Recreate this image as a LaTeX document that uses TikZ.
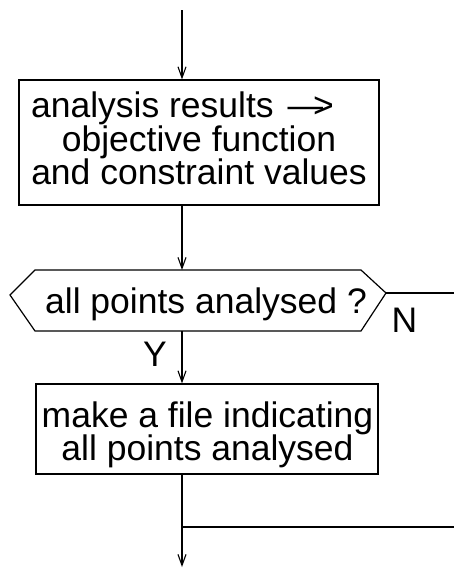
\documentclass[tikz,border=0pt]{standalone}
\usepackage{fontspec}
\setmainfont{Liberation Sans}
\usetikzlibrary{arrows.meta}
\begin{document}
\begin{tikzpicture}[x=1pt,y=-1pt,
  flow/.style={line width=1.2pt},
  arr/.style={flow,-{Straight Barb[length=11pt,width=8pt,line width=1.1pt]}},
  box/.style={draw,line width=1.2pt,inner sep=0pt},
  txt/.style={inner sep=0pt,font=\fontsize{35.5}{33.5}\selectfont,align=center}]
\useasboundingbox (0,0) rectangle (454,568);

% process box: evaluation of the analysis results
\node[box,minimum width=360pt,minimum height=125pt] (res) at (199,142.5) {};
\node[txt,anchor=north] (restext) at (199,91.6)
  {analysis results\hspace{14pt}—\kern-10pt>\kern33pt\\objective function\\and constraint values};

% decision: all points analysed?
\coordinate (hl)  at (10,295);
\coordinate (htl) at (35,270);
\coordinate (htr) at (361,270);
\coordinate (hr)  at (386,293);
\coordinate (hbr) at (361,331);
\coordinate (hbl) at (35,331);
\draw[box] (hl) -- (htl) -- (htr) -- (hr) -- (hbr) -- (hbl) -- cycle;
\node[txt,anchor=base] (q) at (206,313) {all points analysed ?};
\coordinate (qtop) at (182,270);
\coordinate (qbot) at (182,331);

% process box: flag file
\node[box,minimum width=342pt,minimum height=90pt] (mk) at (207,429) {};
\node[txt,anchor=north] (mktext) at (207.5,401.5)
  {make a file indicating\\all points analysed};

% free ends of the flow lines
\coordinate (start) at (182,10);
\coordinate (finish) at (182,567);
\coordinate (split) at (182,527);
\coordinate (sideout) at (454,527);
\coordinate (nout) at (454,293);

% connectors
\draw[arr] (start) -- (start |- res.north);
\draw[arr] (start |- res.south) -- (qtop);
\draw[arr] (qbot) -- (qbot |- mk.north);
\draw[arr] (qbot |- mk.south) -- (finish);
\draw[flow] (split) -- (sideout);
\draw[flow] (hr) -- (nout);

% branch labels
\node[txt,anchor=base] (ylab) at (155,366.5) {Y};
\node[txt,anchor=base] (nlab) at (404.5,332) {N};
\end{tikzpicture}
\end{document}
